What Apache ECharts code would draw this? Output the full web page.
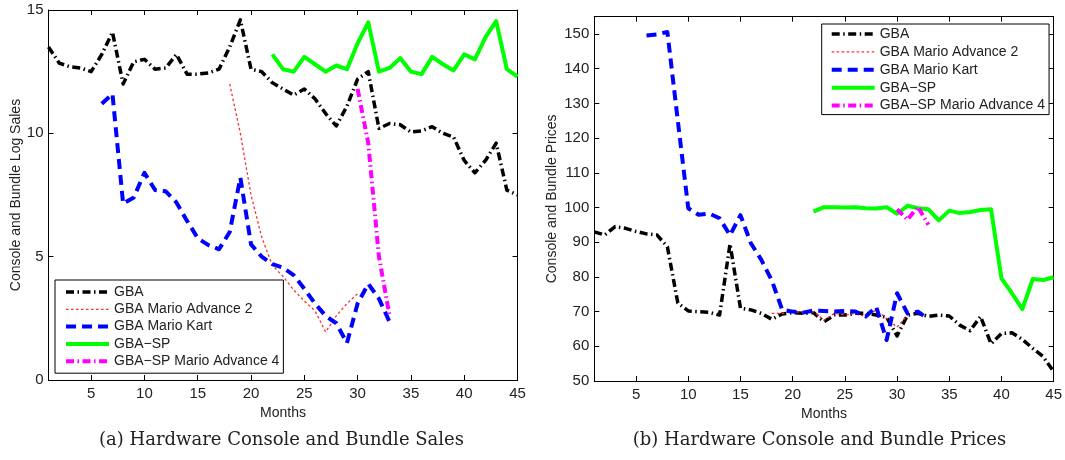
<!DOCTYPE html>
<html><head><meta charset="utf-8">
<script src="https://cdn.jsdelivr.net/npm/echarts@6/dist/echarts.min.js"></script>
<style>html,body{margin:0;padding:0;background:#fff}#c{width:1065px;height:460px}</style>
</head><body><div id="c"></div>
<script>
const months = [1,2,3,4,5,6,7,8,9,10,11,12,13,14,15,16,17,18,19,20,21,22,23,24,25,26,27,28,29,30,31,32,33,34,35,36,37,38,39,40,41,42,43,44,45];
const xTicks = [5,10,15,20,25,30,35,40,45];
const salesTicks = [0,5,10,15];
const priceTicks = [50,60,70,80,90,100,110,120,130,140,150];
const seriesNames = ['GBA','GBA Mario Advance 2','GBA Mario Kart','GBA\u2212SP','GBA\u2212SP Mario Advance 4'];
const xTitle = 'Months';
const salesTitle = 'Console and Bundle Log Sales';
const priceTitle = 'Console and Bundle Prices';
const captionA = '(a) Hardware Console and Bundle Sales';
const captionB = '(b) Hardware Console and Bundle Prices';

// Log sales (months 1..45, null = no data)
const salesGBA = [13.5,12.85,12.7,12.65,12.5,13.2,14.1,12.0,12.9,13.0,12.6,12.65,13.2,12.4,12.4,12.45,12.6,13.5,14.6,12.6,12.5,12.05,11.8,11.55,11.8,11.4,10.8,10.3,11.1,12.2,12.5,10.2,10.4,10.35,10.05,10.1,10.27,10.0,9.85,8.9,8.4,8.9,9.6,7.7,7.5];
const salesMA2 = [null,null,null,null,null,null,null,null,null,null,null,null,null,null,null,null,null,12.0,10.0,7.5,5.8,4.65,4.2,3.65,3.2,2.8,1.95,2.6,3.1,3.5,null,null,null,null,null,null,null,null,null,null,null,null,null,null,null];
const salesMK = [null,null,null,null,null,11.2,11.6,7.15,7.4,8.4,7.7,7.65,7.2,6.45,5.75,5.47,5.3,6.0,8.2,5.5,5.0,4.7,4.55,4.25,3.7,3.1,2.6,2.3,1.5,3.1,3.9,3.3,2.35,null,null,null,null,null,null,null,null,null,null,null,null];
const salesSP = [null,null,null,null,null,null,null,null,null,null,null,null,null,null,null,null,null,null,null,null,null,13.2,12.6,12.5,13.1,12.8,12.5,12.75,12.6,13.65,14.5,12.5,12.65,13.05,12.5,12.4,13.1,12.8,12.55,13.2,13.0,13.9,14.55,12.6,12.3];
const salesSPMA4 = [null,null,null,null,null,null,null,null,null,null,null,null,null,null,null,null,null,null,null,null,null,null,null,null,null,null,null,null,null,11.8,9.6,5.0,2.6,null,null,null,null,null,null,null,null,null,null,null,null];

// Prices (months 1..45)
const priceGBA = [93.0,92.1,94.5,94.0,93.1,92.4,92.1,88.7,72.5,70.2,70.0,69.8,69.0,89.5,71.0,70.5,69.5,67.8,69.3,69.7,69.5,69.7,67.1,69.0,69.0,69.5,69.5,69.0,68.4,63.0,69.0,69.5,68.6,69.0,68.75,66.1,64.5,68.6,60.7,63.7,63.9,62.0,59.4,57.0,52.7];
const priceMA2 = [null,null,null,null,null,null,null,null,null,null,null,null,null,null,null,null,null,69.5,69.5,70.0,69.8,70.0,67.5,69.5,69.0,69.5,68.5,70.5,68.0,65.5,69.0,null,null,null,null,null,null,null,null,null,null,null,null,null,null];
const priceMK = [null,null,null,null,null,149.6,149.9,150.6,125.0,99.8,97.9,98.3,96.9,92.0,97.8,89.7,84.9,79.0,70.5,70.0,69.7,70.3,70.2,70.0,70.2,70.0,68.6,71.4,61.8,75.3,69.5,70.0,67.8,null,null,null,null,null,null,null,null,null,null,null,null];
const priceSP = [null,null,null,null,null,null,null,null,null,null,null,null,null,null,null,null,null,null,null,null,null,98.8,100.1,100.1,100.0,100.1,99.8,99.7,100.1,98.2,100.5,99.8,99.5,96.3,99.1,98.4,98.7,99.3,99.5,79.6,75.3,70.7,79.4,79.1,79.9];
const priceSPMA4 = [null,null,null,null,null,null,null,null,null,null,null,null,null,null,null,null,null,null,null,null,null,null,null,null,null,null,null,null,null,99.5,96.5,100.2,95.0,null,null,null,null,null,null,null,null,null,null,null,null];

const FONT = 'Liberation Sans, Arial, Helvetica, sans-serif';
const TXT = '#222';
const styles = [
  {color:'#000000', width:3.5, type:[8,3.5,1.5,3.5]},
  {color:'#ff2a2a', width:1.3, type:[2.5,2.5]},
  {color:'#0000ff', width:4, type:[10,6]},
  {color:'#00ff00', width:4, type:'solid'},
  {color:'#ff00ff', width:4, type:[8,3.5,1.5,3.5]}
];
function pts(arr){ const out=[]; months.forEach((m,i)=>{ if(arr[i]!=null) out.push([m,arr[i]]); }); return out; }
function mkSeries(name, arr, idx, gi){
  const s = styles[idx];
  return {name:name, type:'line', xAxisIndex:gi*2, yAxisIndex:gi*2, data:pts(arr), symbol:'none',
    lineStyle:{color:s.color, width:s.width, type:s.type, join:'round', cap:'butt'}, itemStyle:{color:s.color},
    emphasis:{disabled:true}, z:2+idx};
}
function xAx(gi, pos){
  return {type:'value', gridIndex:gi, position:pos, min:1, max:45,
    axisLine:{show:true, onZero:false, lineStyle:{color:'#000', width:1}},
    axisTick:{show:true, inside:true, length:5, customValues:xTicks, lineStyle:{color:'#000'}},
    axisLabel:{show:pos==='bottom', customValues:xTicks, color:TXT, fontSize:15, fontFamily:FONT, margin:6},
    splitLine:{show:false},
    name: pos==='bottom'?xTitle:'', nameLocation:'middle', nameGap:24,
    nameTextStyle:{color:TXT, fontSize:14, fontFamily:FONT}};
}
function yAx(gi, pos, min, max, ticks, title, gap){
  return {type:'value', gridIndex:gi, position:pos, min:min, max:max,
    axisLine:{show:true, onZero:false, lineStyle:{color:'#000', width:1}},
    axisTick:{show:true, inside:true, length:5, customValues:ticks, lineStyle:{color:'#000'}},
    axisLabel:{show:pos==='left', customValues:ticks, color:TXT, fontSize:15, fontFamily:FONT, margin:5},
    splitLine:{show:false},
    name: pos==='left'?title:'', nameLocation:'middle', nameGap:gap, nameRotate:90,
    nameTextStyle:{color:TXT, fontSize:14, fontFamily:FONT}};
}
function legendFor(left, top, pad, gap){
  return {data:seriesNames, orient:'vertical', left:left, top:top, padding:pad, itemGap:gap,
    itemWidth:43, itemHeight:14, borderColor:'#000', borderWidth:1, backgroundColor:'#fff',
    itemStyle:{opacity:0, color:'rgba(0,0,0,0)', borderWidth:0},
    lineStyle:{width:'inherit', type:'inherit', color:'inherit'},
    selectedMode:false, textStyle:{color:TXT, fontSize:14, fontFamily:FONT, lineHeight:14}};
}
const chart = echarts.init(document.getElementById('c'), null, {renderer:'canvas'});
chart.setOption({
  animation:false,
  backgroundColor:'#fff',
  title:[
    {text:captionA, left:276.5, top:426, textAlign:'center', textStyle:{fontFamily:'DejaVu Serif, serif', fontWeight:'normal', fontSize:18, color:'#222'}},
    {text:captionB, left:814.5, top:426, textAlign:'center', textStyle:{fontFamily:'DejaVu Serif, serif', fontWeight:'normal', fontSize:18, color:'#222'}}
  ],
  grid:[
    {left:48.5, top:10, width:469, height:370},
    {left:594.3, top:16.7, width:461.4, height:364.3}
  ],
  xAxis:[xAx(0,'bottom'), xAx(0,'top'), xAx(1,'bottom'), xAx(1,'top')],
  yAxis:[
    yAx(0,'left',0,15,salesTicks,salesTitle,25),
    yAx(0,'right',0,15,salesTicks,'',0),
    yAx(1,'left',50,155,priceTicks,priceTitle,35),
    yAx(1,'right',50,155,priceTicks,'',0)
  ],
  legend:[legendFor(55,280,[5,4,5,9],3.3), legendFor(821.7,24,[3,4,2,8],3.9)],
  series:[
    mkSeries(seriesNames[0], salesGBA, 0, 0),
    mkSeries(seriesNames[1], salesMA2, 1, 0),
    mkSeries(seriesNames[2], salesMK, 2, 0),
    mkSeries(seriesNames[3], salesSP, 3, 0),
    mkSeries(seriesNames[4], salesSPMA4, 4, 0),
    mkSeries(seriesNames[0], priceGBA, 0, 1),
    mkSeries(seriesNames[1], priceMA2, 1, 1),
    mkSeries(seriesNames[2], priceMK, 2, 1),
    mkSeries(seriesNames[3], priceSP, 3, 1),
    mkSeries(seriesNames[4], priceSPMA4, 4, 1)
  ]
});
</script>
</body></html>
